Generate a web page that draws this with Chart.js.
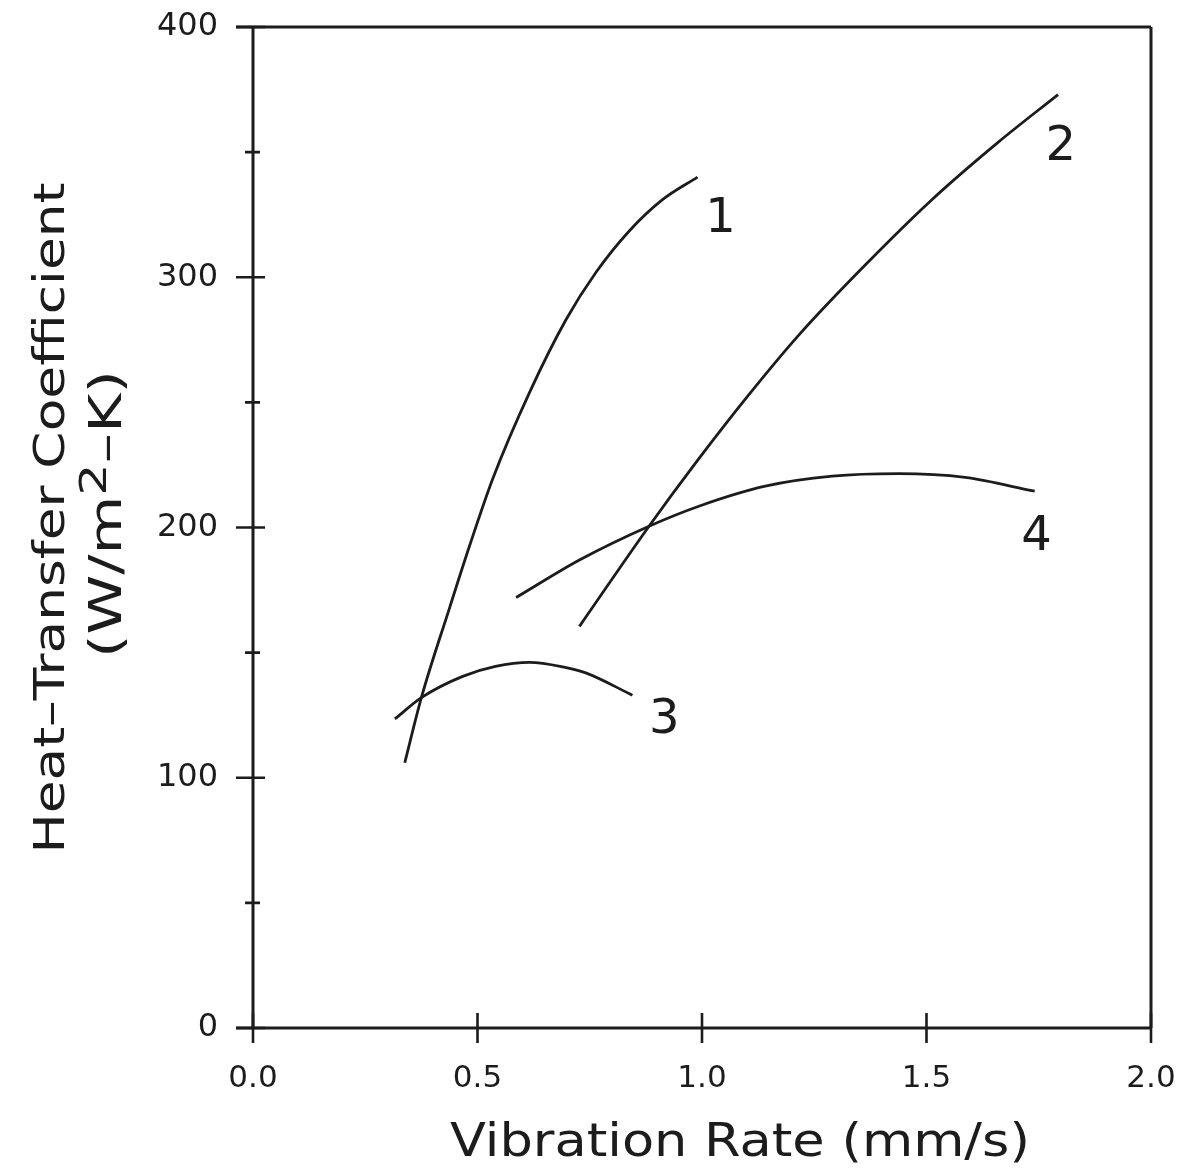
<!DOCTYPE html>
<html>
<head>
<meta charset="utf-8">
<script src="https://cdn.jsdelivr.net/npm/chart.js@4/dist/chart.umd.min.js"></script>
<style>
  html, body { margin: 0; padding: 0; background: #ffffff; }
  #wrap { width: 1183px; height: 1171px; position: relative; }
</style>
</head>
<body>
<div id="wrap"><canvas id="c" width="1183" height="1171"></canvas></div>
<script>
// ---- data ----
const curve1X = [0.338, 0.375, 0.438, 0.482, 0.534, 0.616, 0.697, 0.764, 0.838, 0.912, 0.990];
const curve1Y = [106, 132, 168, 192.5, 219.5, 254, 283, 302, 318.5, 331, 340];

const curve2X = [0.727, 0.882, 0.993, 1.104, 1.216, 1.364, 1.512, 1.660, 1.793];
const curve2Y = [160.5, 200.5, 227.5, 253, 277, 305, 331, 354, 373];

const curve3X = [0.316, 0.375, 0.467, 0.540, 0.616, 0.690, 0.741, 0.845];
const curve3Y = [123.5, 132, 140.5, 144.5, 146.1, 144.3, 141.9, 133];

const curve4X = [0.586, 0.727, 0.882, 0.993, 1.141, 1.290, 1.438, 1.586, 1.741];
const curve4Y = [172, 187, 200.5, 208.5, 216.5, 220.5, 221.5, 220, 214.5];

const curveNames = ['1', '2', '3', '4'];
const curveLabelX = [1.041, 1.799, 0.916, 1.745];
const curveLabelY = [323, 352, 123, 196];

const xTickValues = [0.0, 0.5, 1.0, 1.5, 2.0];
const xTitle = 'Vibration Rate (mm/s)';
const yTitle1 = 'Heat–Transfer Coefficient';
const yTitle2a = '(W/m';
const yTitle2sup = '2';
const yTitle2b = '–K)';

// ---- helpers ----
const INK = '#1c1c1c';
const FONT = "'DejaVu Sans', sans-serif";
function toPoints(xs, ys) { return xs.map((x, i) => ({ x: x, y: ys[i] })); }
function lineDs(xs, ys) {
  return {
    data: toPoints(xs, ys),
    showLine: true,
    borderColor: INK,
    borderWidth: 2.8,
    pointRadius: 0,
    cubicInterpolationMode: 'monotone',
    fill: false
  };
}

// draw a text stretched/squeezed horizontally to a target width
function fitText(ctx, text, font, targetW) {
  ctx.font = font;
  const w = ctx.measureText(text).width;
  ctx.save();
  ctx.scale(targetW / w, 1);
  ctx.fillText(text, 0, 0);
  ctx.restore();
}

const framePlugin = {
  id: 'frame',
  afterDraw(chart) {
    const ctx = chart.ctx;
    const { left, right, top, bottom } = chart.chartArea;
    const xs = chart.scales.x, ys = chart.scales.y;
    ctx.save();
    ctx.strokeStyle = INK;
    ctx.lineCap = 'butt';
    ctx.lineWidth = 3;
    ctx.beginPath();
    ctx.moveTo(left - 17, top); ctx.lineTo(right, top);
    ctx.moveTo(right, top); ctx.lineTo(right, bottom);
    ctx.moveTo(left - 17, bottom); ctx.lineTo(right, bottom);
    ctx.moveTo(left, top); ctx.lineTo(left, bottom);
    ctx.stroke();
    ctx.lineWidth = 2.6;
    ctx.beginPath();
    ys.ticks.forEach(t => {
      const py = ys.getPixelForValue(t.value);
      if (t.value % 100 === 0) { ctx.moveTo(left - 17, py); ctx.lineTo(left + 12, py); }
      else { ctx.moveTo(left - 8, py); ctx.lineTo(left + 7, py); }
    });
    xs.ticks.forEach(t => {
      const px = xs.getPixelForValue(t.value);
      ctx.moveTo(px, bottom - 15); ctx.lineTo(px, bottom + 15);
    });
    ctx.stroke();

    // curve number labels
    ctx.fillStyle = INK;
    ctx.font = '48px ' + FONT;
    ctx.textAlign = 'center';
    ctx.textBaseline = 'middle';
    curveNames.forEach((n, i) => {
      ctx.fillText(n, xs.getPixelForValue(curveLabelX[i]), ys.getPixelForValue(curveLabelY[i]));
    });

    // x axis title
    ctx.textBaseline = 'alphabetic';
    ctx.save();
    ctx.translate(740, 1156);
    fitText(ctx, xTitle, '47px ' + FONT, 580);
    ctx.restore();

    // y axis title, line 1
    ctx.save();
    ctx.translate(64, 518);
    ctx.rotate(-Math.PI / 2);
    fitText(ctx, yTitle1, '43px ' + FONT, 671);
    ctx.restore();

    // y axis title, line 2 with superscript
    ctx.save();
    ctx.font = '45px ' + FONT;
    const wa = ctx.measureText(yTitle2a).width;
    const wb = ctx.measureText(yTitle2b).width;
    ctx.font = '38px ' + FONT;
    const ws = ctx.measureText(yTitle2sup).width;
    const total = wa + ws + wb;
    ctx.translate(121, 514);
    ctx.rotate(-Math.PI / 2);
    ctx.scale(288 / total, 1);
    ctx.textAlign = 'left';
    let pos = -total / 2;
    ctx.font = '45px ' + FONT;
    ctx.fillText(yTitle2a, pos, 0); pos += wa;
    ctx.font = '38px ' + FONT;
    ctx.fillText(yTitle2sup, pos, -15); pos += ws;
    ctx.font = '45px ' + FONT;
    ctx.fillText(yTitle2b, pos, 0);
    ctx.restore();

    ctx.restore();
  }
};

new Chart(document.getElementById('c'), {
  type: 'scatter',
  data: {
    datasets: [
      lineDs(curve1X, curve1Y),
      lineDs(curve2X, curve2Y),
      lineDs(curve3X, curve3Y),
      lineDs(curve4X, curve4Y)
    ]
  },
  options: {
    responsive: false,
    animation: false,
    devicePixelRatio: 1,
    layout: { padding: { left: 0, top: 27, right: 32, bottom: 0 } },
    plugins: { legend: { display: false }, tooltip: { enabled: false }, title: { display: false } },
    scales: {
      x: {
        type: 'linear',
        min: 0, max: 2,
        afterBuildTicks: s => { s.ticks = xTickValues.map(v => ({ value: v })); },
        ticks: {
          callback: v => Number(v).toFixed(1),
          font: { family: FONT, size: 31 },
          color: INK,
          padding: 24,
          maxRotation: 0,
          autoSkip: false
        },
        grid: { display: false },
        border: { display: false },
        afterFit: s => { s.height = 143; s.paddingLeft = 0; s.paddingRight = 0; }
      },
      y: {
        type: 'linear',
        min: 0, max: 400,
        ticks: {
          stepSize: 50,
          callback: v => (v % 100 === 0 ? String(v) : ''),
          font: { family: FONT, size: 32 },
          color: INK,
          padding: 27,
          autoSkip: false
        },
        grid: { display: false },
        border: { display: false },
        afterFit: s => { s.width = 253; s.paddingTop = 0; s.paddingBottom = 0; }
      }
    }
  },
  plugins: [framePlugin]
});
</script>
</body>
</html>
